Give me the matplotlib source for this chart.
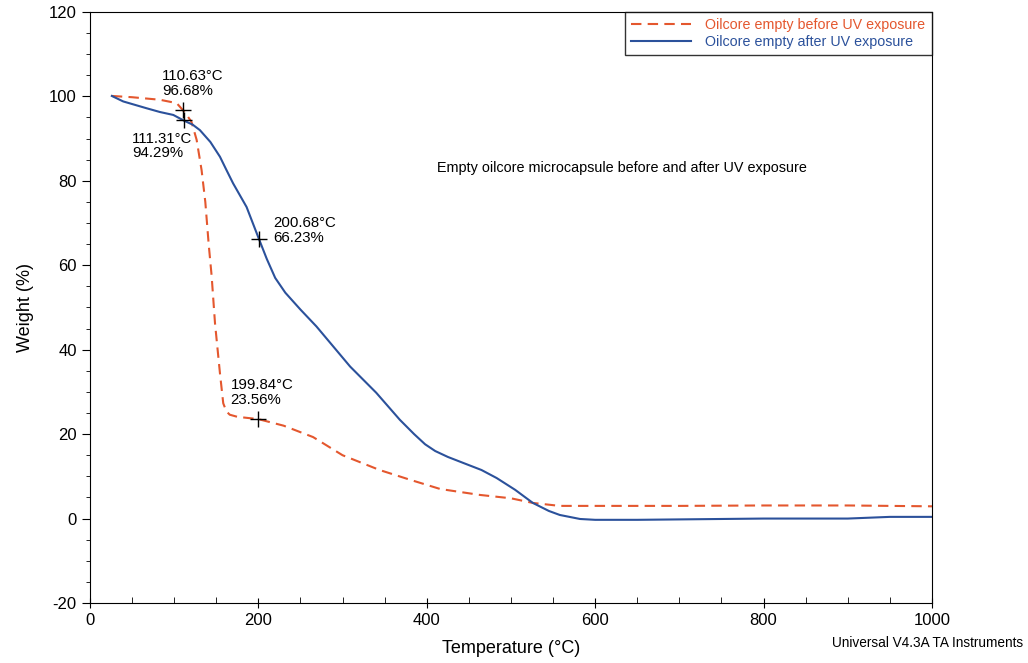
import matplotlib
matplotlib.use('Agg')
import matplotlib.pyplot as plt
from matplotlib.ticker import MultipleLocator

plt.rcParams['font.family'] = ['Liberation Sans', 'DejaVu Sans']
plt.rcParams['axes.unicode_minus'] = False

# before UV exposure (red dashed)
before_t = [26, 50, 83, 103, 110.63, 115, 120.7, 126.7, 132.6, 137, 141, 144.5, 148.5, 154.4, 158.3,
            162, 166, 175, 199.84, 230, 265, 300, 344, 380, 416, 463, 500, 526, 558, 600, 700, 800, 900, 1000]
before_w = [100.1, 99.8, 99.2, 98.4, 96.68, 95.6, 93.9, 89.7, 82.5, 75, 65, 57.5, 46.3, 34.4, 27.3,
            25.4, 24.6, 24.1, 23.56, 22, 19.3, 15, 11.5, 9.2, 7.0, 5.6, 4.8, 3.7, 3.0, 3.0, 3.0, 3.1, 3.1, 2.9]

# after UV exposure (blue solid)
after_t = [26, 39.5, 67, 83, 99, 111.31, 122, 130.6, 143, 154.4, 162, 170, 186, 200.68, 210, 220,
           232, 250, 269, 309, 340, 368, 385, 398, 410, 425, 443, 465, 483, 505, 526, 545, 558, 582,
           600, 650, 700, 800, 900, 950, 1000]
after_w = [100.1, 98.8, 97.2, 96.3, 95.6, 94.29, 93.3, 92, 89.2, 85.7, 82.6, 79.4, 73.8, 66.23, 61.5, 57,
           53.5, 49.5, 45.5, 36, 29.8, 23.4, 20, 17.6, 16.0, 14.6, 13.2, 11.5, 9.6, 6.8, 3.7, 1.8, 0.85, -0.1,
           -0.3, -0.3, -0.2, 0, 0, 0.4, 0.4]

# marked points
marks_t = [110.63, 111.31, 200.68, 199.84]
marks_w = [96.68, 94.29, 66.23, 23.56]
marks_lbl = ['110.63°C\n96.68%', '111.31°C\n94.29%', '200.68°C\n66.23%', '199.84°C\n23.56%']
lbl_off = [(-15, 9), (-37, -8), (10, 6), (-20, 9)]
lbl_va = ['bottom', 'top', 'center', 'bottom']

red = '#E4572E'
blue = '#2B519B'

fig = plt.figure(figsize=(10.28, 6.63), dpi=100)
ax = fig.add_axes([0.0875, 0.0905, 0.8191, 0.8915])

ax.plot(before_t, before_w, color=red, lw=1.5, dashes=(5, 3), label='Oilcore empty before UV exposure')
ax.plot(after_t, after_w, color=blue, lw=1.5, label='Oilcore empty after UV exposure')
ax.plot(marks_t, marks_w, '+', color='black', ms=12, mew=1.0)

for t, w, s, (dx, dy), va in zip(marks_t, marks_w, marks_lbl, lbl_off, lbl_va):
    ax.annotate(s, (t, w), xytext=(dx, dy), textcoords='offset points', fontsize=10.8,
                ha='left', va=va, linespacing=1.05)

ax.text(0.632, 0.736, 'Empty oilcore microcapsule before and after UV exposure',
        transform=ax.transAxes, ha='center', va='center', fontsize=10.4)

ax.set_xlim(0, 1000)
ax.set_ylim(-20, 120)
ax.xaxis.set_major_locator(MultipleLocator(200))
ax.xaxis.set_minor_locator(MultipleLocator(50))
ax.yaxis.set_major_locator(MultipleLocator(20))
ax.yaxis.set_minor_locator(MultipleLocator(5))
ax.tick_params(axis='x', which='major', direction='inout', length=7, labelsize=12)
ax.tick_params(axis='x', which='minor', direction='in', length=4)
ax.tick_params(axis='y', which='major', direction='out', length=6, labelsize=12)
ax.tick_params(axis='y', which='minor', direction='out', length=3)

ax.set_xlabel('Temperature (°C)', fontsize=13, labelpad=9)
ax.set_ylabel('Weight (%)', fontsize=13, labelpad=11)

leg = ax.legend(loc='upper right', borderaxespad=0, fancybox=False, fontsize=10.3,
                handlelength=4.2, handletextpad=1.0, frameon=True, borderpad=0.45, labelspacing=0.15)
leg.get_frame().set_edgecolor('black')
leg.get_frame().set_linewidth(1.0)
for txt, c in zip(leg.get_texts(), [red, blue]):
    txt.set_color(c)

fig.text(0.995, 0.03, 'Universal V4.3A TA Instruments', ha='right', va='center', fontsize=9.8)

fig.savefig('out.png', dpi=100)
